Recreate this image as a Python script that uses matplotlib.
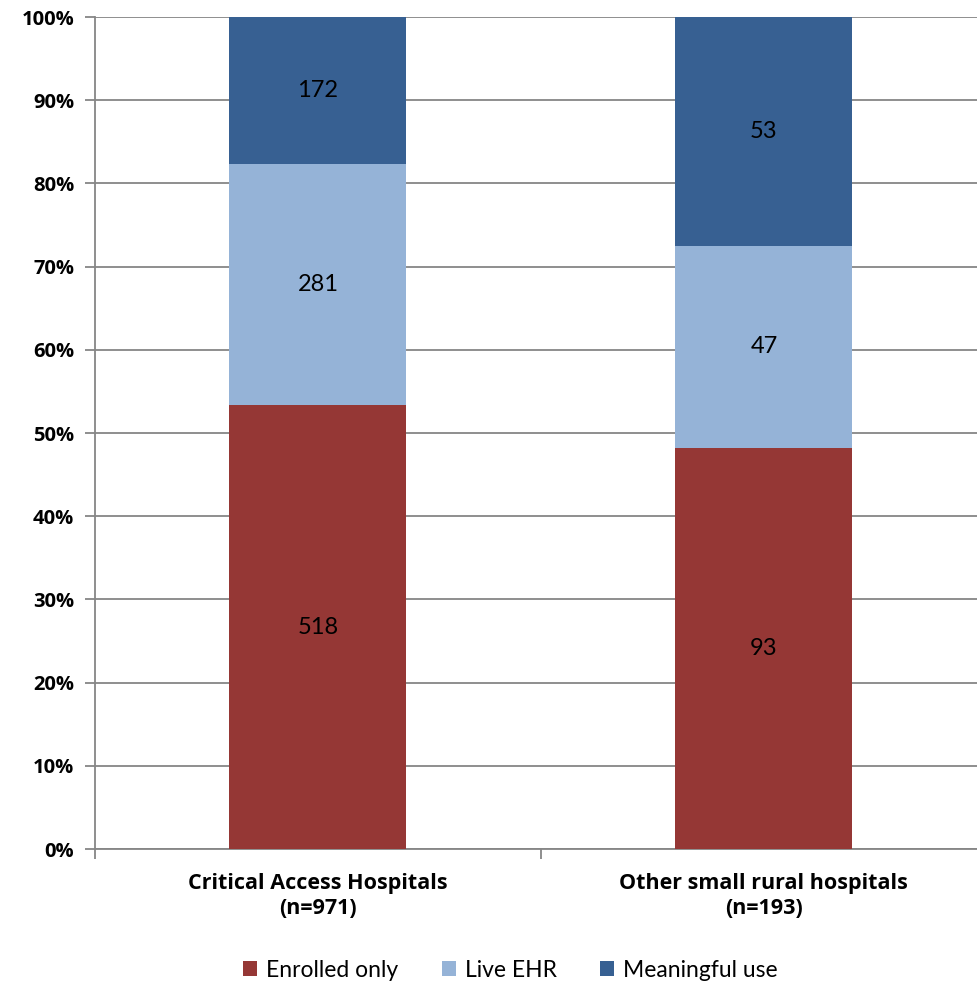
import matplotlib
matplotlib.use("Agg")
import matplotlib.pyplot as plt
import numpy as np

plt.rcParams['font.family'] = ['Lato', 'DejaVu Sans']
NEGRITA = ['Open Sans', 'DejaVu Sans']

# datos
categorias = ["Critical Access Hospitals\n(n=971)", "Other small rural hospitals\n(n=193)"]
series = ["Enrolled only", "Live EHR", "Meaningful use"]
enrolled = [518, 93]
live_ehr = [281, 47]
meaningful = [172, 53]
colores = ["#953735", "#95B3D7", "#376092"]
yticks = np.arange(0, 101, 10)

conteos = np.array([enrolled, live_ehr, meaningful], dtype=float)
totales = conteos.sum(axis=0)
pct = conteos / totales * 100

fig = plt.figure(figsize=(9.78, 9.85), dpi=100)
# el eje se sale un poco del borde derecho, como en el original
ax = fig.add_axes([0.0971, 0.138, 0.912, 0.8447])

x = np.arange(len(categorias))
base = np.zeros(len(categorias))
for i, nombre in enumerate(series):
    barras = ax.bar(x, pct[i], bottom=base, width=0.397, color=colores[i],
                    label=nombre, zorder=3)
    ax.bar_label(barras, labels=[str(int(v)) for v in conteos[i]],
                 label_type='center', fontsize=17, color='black')
    base += pct[i]

ax.set_xlim(-0.5, 1.5)
ax.set_ylim(0, 100)
ax.set_yticks(yticks, labels=[f"{v}%" for v in yticks], fontweight='bold',
              fontsize=14.5, family=NEGRITA)
ax.grid(axis='y', color='#868686', linewidth=1.3, zorder=0)

ax.set_xticks([-0.5, 0.5, 1.5])
ax.set_xticklabels([])
ax.set_xticks(x, minor=True)
ax.set_xticklabels(categorias, minor=True, fontsize=15.5, fontweight='bold',
                   family=NEGRITA, linespacing=1.3)
ax.tick_params(axis='x', which='minor', length=0, pad=17)
ax.tick_params(axis='x', which='major', length=7, width=1.3, color='#868686')
ax.tick_params(axis='y', length=7, width=1.3, color='#868686', pad=8)

for lado in ['top', 'right']:
    ax.spines[lado].set_visible(False)
for lado in ['left', 'bottom']:
    ax.spines[lado].set_color('#868686')
    ax.spines[lado].set_linewidth(1.3)

fig.legend(loc='center', bbox_to_anchor=(0.522, 0.015), ncol=3, frameon=False,
           fontsize=16.5, handlelength=0.6, handleheight=0.6, handletextpad=0.4,
           columnspacing=1.9)

fig.savefig("out.png", dpi=100)
